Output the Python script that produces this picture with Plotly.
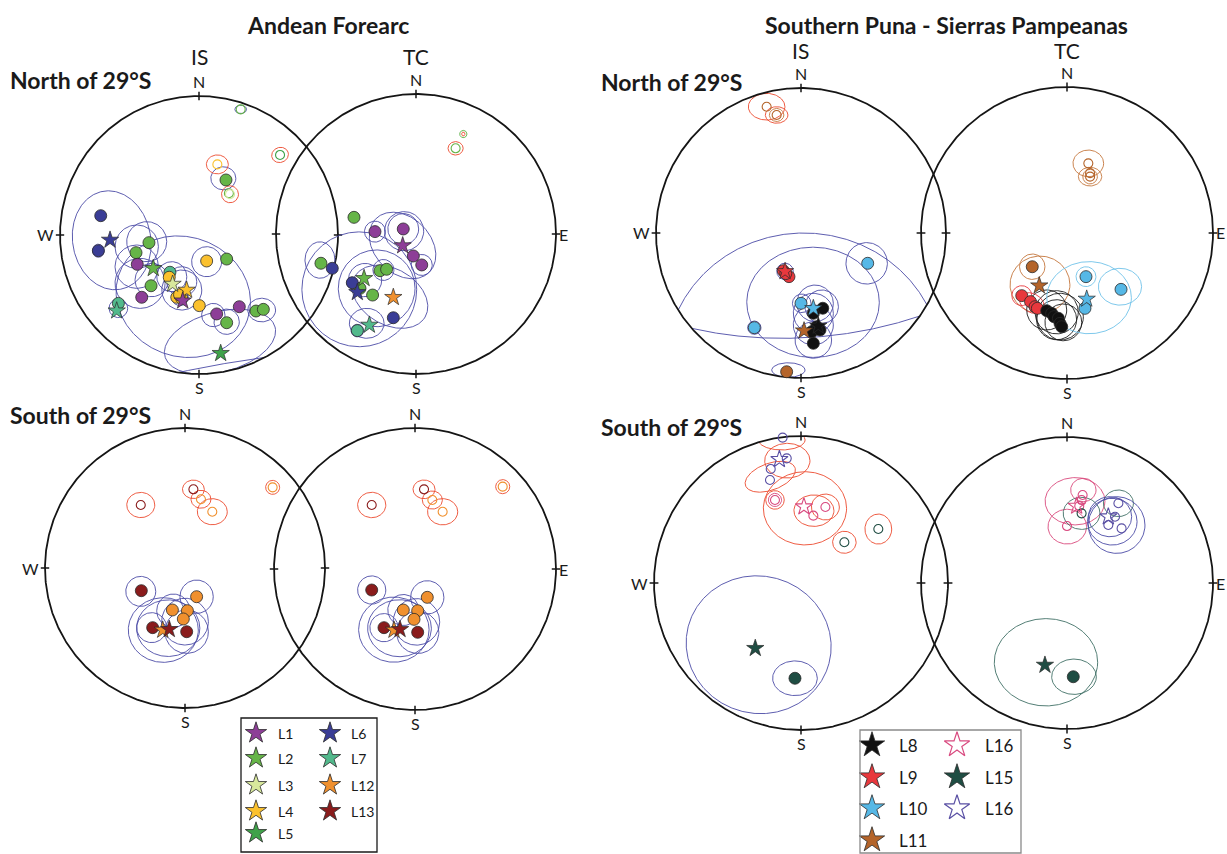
import numpy as np
import plotly.graph_objects as go

FIG_W, FIG_H = 1227, 854
FONT = "Lato, 'Open Sans', sans-serif"

# ---------------------------------------------------------------------------
# Site-mean directions on the equal-area net, as (site, east, north) in units
# of the net radius.  Rings are alpha95 cones: (colour key, east, north,
# semi-axis a, semi-axis b, rotation in degrees).
# ---------------------------------------------------------------------------

# Andean Forearc, north of 29S, in situ
AFN_IS_DOTS = [
    ('L6', -0.707, 0.139), ('L6', -0.724, -0.113),
    ('L2', -0.360, -0.055), ('L2', -0.453, -0.127), ('L2', -0.345, -0.365),
    ('L2', 0.199, -0.173), ('L2', 0.199, -0.631), ('L2', 0.410, -0.547),
    ('L2', 0.463, -0.535), ('L2', 0.194, 0.396),
    ('L7', -0.580, -0.492), ('L7', -0.209, -0.268),
    ('L1', -0.444, -0.211), ('L1', -0.412, -0.448), ('L1', 0.290, -0.516),
    ('L1', 0.127, -0.568),
    ('L4', -0.214, -0.304), ('L4', -0.160, -0.448), ('L4', -0.124, -0.456),
    ('L4', -0.140, -0.430), ('L4', 0.055, -0.187), ('L4', 0.002, -0.508),
]
AFN_IS_STARS = [
    ('L6', -0.640, -0.036), ('L2', -0.329, -0.240), ('L7', -0.592, -0.545),
    ('L3', -0.190, -0.353), ('L4', -0.089, -0.396), ('L1', -0.117, -0.473),
    ('L5', 0.156, -0.851),
]
AFN_IS_OPEN = [
    ('L2', 0.300, 0.904), ('L5', 0.583, 0.576), ('L4', 0.132, 0.508),
    ('L3', 0.223, 0.293), ('L2', 0.215, 0.300),
]
AFN_IS_RINGS = [
    ('low', 0.300, 0.904, 0.042, 0.030, 0), ('up', 0.583, 0.576, 0.061, 0.054, 20),
    ('up', 0.132, 0.508, 0.079, 0.068, 0), ('low', 0.175, 0.408, 0.090, 0.083, 0),
    ('up', 0.223, 0.293, 0.061, 0.061, 0), ('low', -0.628, -0.038, 0.281, 0.358, 10),
    ('low', -0.724, -0.113, 0.043, 0.047, 0), ('low', -0.376, -0.048, 0.144, 0.144, 0),
    ('low', -0.448, -0.084, 0.156, 0.156, 0), ('low', -0.448, -0.228, 0.156, 0.156, 0),
    ('low', -0.424, -0.348, 0.180, 0.180, 0), ('low', -0.340, -0.324, 0.120, 0.120, 0),
    ('low', -0.196, -0.300, 0.108, 0.108, 0), ('low', -0.124, -0.336, 0.108, 0.108, 0),
    ('low', -0.124, -0.396, 0.144, 0.144, 0), ('low', -0.137, -0.448, 0.060, 0.060, 0),
    ('low', 0.055, -0.192, 0.108, 0.108, 0), ('low', -0.113, -0.444, 0.490, 0.430, -20),
    ('low', 0.103, -0.576, 0.084, 0.084, 0), ('low', 0.199, -0.624, 0.091, 0.091, 0),
    ('low', 0.451, -0.540, 0.100, 0.085, 0), ('low', -0.580, -0.527, 0.067, 0.067, 0),
    ('low', 0.151, -0.768, 0.410, 0.216, 15), ('low', 0.500, -2.900, 4.000, 2.000, 10),
]

# Andean Forearc, north of 29S, tilt corrected
AFN_TC_DOTS = [
    ('L2', -0.443, 0.119), ('L2', -0.679, -0.209), ('L2', -0.257, -0.262),
    ('L2', -0.210, -0.252), ('L2', -0.400, -0.388), ('L2', -0.310, -0.436),
    ('L7', -0.419, -0.690),
    ('L1', -0.293, 0.017), ('L1', -0.091, 0.036), ('L1', -0.019, -0.157),
    ('L1', 0.041, -0.221),
    ('L6', -0.598, -0.245), ('L6', -0.455, -0.348), ('L6', -0.162, -0.598),
]
AFN_TC_STARS = [
    ('L1', -0.095, -0.083), ('L2', -0.371, -0.317), ('L6', -0.419, -0.417),
    ('L12', -0.162, -0.452), ('L7', -0.333, -0.650),
]
AFN_TC_OPEN = [('L2', 0.283, 0.612)]
AFN_TC_RINGS = [
    ('L2', 0.338, 0.714, 0.026, 0.026, 0), ('up', 0.338, 0.714, 0.012, 0.014, 0),
    ('up', 0.283, 0.612, 0.054, 0.048, 0), ('low', -0.293, 0.017, 0.075, 0.075, 0),
    ('low', -0.091, 0.036, 0.110, 0.110, 0), ('low', -0.085, 0.020, 0.140, 0.140, 0),
    ('low', -0.096, -0.082, 0.270, 0.200, -45), ('low', 0.041, -0.221, 0.075, 0.075, 0),
    ('low', -0.686, -0.186, 0.107, 0.130, 0), ('low', -0.405, -0.395, 0.410, 0.410, 0),
    ('low', -0.233, -0.257, 0.075, 0.075, 0), ('low', -0.281, -0.388, 0.274, 0.274, 0),
    ('low', -0.186, -0.448, 0.290, 0.200, -30), ('low', -0.364, -0.329, 0.119, 0.119, 0),
    ('low', -0.352, -0.638, 0.124, 0.107, 0), ('low', -0.455, -0.348, 0.040, 0.040, 0),
    ('low', -0.419, -0.690, 0.045, 0.045, 0),
]

# Andean Forearc, south of 29S, in situ
AFS_IS_DOTS = [
    ('L13', -0.312, -0.162), ('L13', -0.231, -0.426), ('L13', 0.012, -0.455),
    ('L12', 0.083, -0.205), ('L12', -0.090, -0.300), ('L12', 0.017, -0.305),
    ('L12', -0.012, -0.364),
]
AFS_IS_STARS = [('L12', -0.159, -0.443), ('L13', -0.112, -0.438)]
AFS_IS_OPEN = [
    ('L13', -0.316, 0.450), ('L13', 0.060, 0.562), ('L12', 0.114, 0.491),
    ('L12', 0.195, 0.402), ('L12', 0.626, 0.576),
]
AFS_IS_RINGS = [
    ('up', -0.316, 0.450, 0.100, 0.090, 0), ('up', 0.060, 0.562, 0.078, 0.066, 0),
    ('up', 0.114, 0.491, 0.071, 0.064, 0), ('up', 0.195, 0.402, 0.107, 0.093, 0),
    ('up', 0.626, 0.576, 0.050, 0.050, 0),
    ('low', -0.316, -0.167, 0.107, 0.107, 0), ('low', 0.083, -0.205, 0.119, 0.119, 0),
    ('low', -0.155, -0.443, 0.250, 0.231, 0), ('low', -0.120, -0.430, 0.226, 0.202, 0),
    ('low', -0.238, -0.426, 0.107, 0.107, 0), ('low', 0.000, -0.383, 0.167, 0.167, 0),
    ('low', 0.012, -0.455, 0.155, 0.155, 0), ('low', -0.083, -0.305, 0.119, 0.119, 0),
]

# Andean Forearc, south of 29S, tilt corrected
AFS_TC_DOTS = [
    ('L13', -0.307, -0.149), ('L13', -0.220, -0.416), ('L13', 0.019, -0.449),
    ('L12', 0.087, -0.201), ('L12', -0.083, -0.291), ('L12', 0.019, -0.296),
    ('L12', -0.007, -0.357),
]
AFS_TC_STARS = [('L12', -0.149, -0.433), ('L13', -0.106, -0.428)]
AFS_TC_OPEN = [
    ('L13', -0.307, 0.454), ('L13', 0.064, 0.565), ('L12', 0.123, 0.489),
    ('L12', 0.196, 0.406), ('L12', 0.622, 0.584),
]
AFS_TC_RINGS = [
    ('up', -0.307, 0.454, 0.100, 0.090, 0), ('up', 0.064, 0.565, 0.078, 0.066, 0),
    ('up', 0.123, 0.489, 0.071, 0.064, 0), ('up', 0.196, 0.406, 0.107, 0.093, 0),
    ('up', 0.622, 0.584, 0.050, 0.050, 0),
    ('low', -0.307, -0.149, 0.100, 0.100, 0), ('low', 0.087, -0.201, 0.118, 0.118, 0),
    ('low', -0.150, -0.430, 0.250, 0.231, 0), ('low', -0.110, -0.420, 0.226, 0.202, 0),
    ('low', -0.220, -0.416, 0.100, 0.100, 0), ('low', 0.010, -0.375, 0.165, 0.165, 0),
    ('low', 0.019, -0.449, 0.150, 0.150, 0), ('low', -0.083, -0.291, 0.110, 0.110, 0),
]

# Southern Puna - Sierras Pampeanas, north of 29S, in situ
SPN_IS_DOTS = [
    ('L9', -0.122, -0.260), ('L9', -0.083, -0.301), ('L9', -0.105, -0.280),
    ('L10', 0.460, -0.209), ('L10', 0.000, -0.485), ('L10', -0.322, -0.653),
    ('L8', 0.150, -0.519), ('L8', 0.085, -0.554), ('L8', 0.108, -0.646),
    ('L8', 0.074, -0.681), ('L8', 0.131, -0.669), ('L8', 0.085, -0.761),
    ('L11', -0.099, -0.957),
]
SPN_IS_STARS = [
    ('L9', -0.110, -0.265), ('L10', 0.085, -0.520), ('L8', 0.119, -0.641),
    ('L11', 0.021, -0.674),
]
SPN_IS_OPEN = [('L11', -0.237, 0.871), ('L11', -0.168, 0.814)]
SPN_IS_RINGS = [
    ('up', -0.237, 0.871, 0.126, 0.092, 0), ('up', -0.168, 0.814, 0.078, 0.057, 0),
    ('L11', -0.168, 0.814, 0.050, 0.045, 0),
    ('low', 0.453, -0.209, 0.143, 0.143, 0), ('low', 0.005, -0.485, 0.064, 0.064, 0),
    ('low', -0.322, -0.653, 0.046, 0.046, 0), ('low', -0.110, -0.265, 0.057, 0.057, 0),
    ('low', 0.083, -0.478, 0.457, 0.380, 0), ('low', 0.097, -0.485, 0.126, 0.126, 0),
    ('low', 0.085, -0.554, 0.138, 0.138, 0), ('low', 0.085, -0.634, 0.138, 0.138, 0),
    ('low', 0.085, -0.738, 0.126, 0.126, 0), ('low', 0.143, -0.508, 0.115, 0.115, 0),
    ('low', -0.087, -0.945, 0.115, 0.050, 0), ('low', 0.020, -0.900, 0.950, 0.900, 0),
    ('low', 0.020, 0.600, 2.000, 1.320, 5),
]

# Southern Puna - Sierras Pampeanas, north of 29S, tilt corrected
SPN_TC_DOTS = [
    ('L11', -0.238, -0.231),
    ('L9', -0.310, -0.429), ('L9', -0.250, -0.470), ('L9', -0.219, -0.505),
    ('L9', -0.203, -0.516),
    ('L8', -0.139, -0.532), ('L8', -0.105, -0.550), ('L8', -0.089, -0.573),
    ('L8', -0.059, -0.584), ('L8', -0.048, -0.619), ('L8', -0.036, -0.642),
    ('L10', 0.130, -0.299), ('L10', 0.370, -0.386), ('L10', 0.123, -0.516),
]
SPN_TC_STARS = [('L11', -0.190, -0.361), ('L10', 0.135, -0.452)]
SPN_TC_OPEN = [('L11', 0.146, 0.477), ('L11', 0.158, 0.386), ('L11', 0.158, 0.410)]
SPN_TC_RINGS = [
    ('L11', 0.146, 0.477, 0.105, 0.091, 0), ('L11', 0.158, 0.386, 0.080, 0.064, 0),
    ('L11', 0.158, 0.386, 0.050, 0.050, 0), ('L11', -0.238, -0.231, 0.087, 0.087, 0),
    ('L11', -0.185, -0.354, 0.205, 0.196, 0),
    ('L9', -0.310, -0.429, 0.068, 0.068, 0), ('L9', -0.240, -0.480, 0.090, 0.064, -30),
    ('L8', -0.139, -0.527, 0.137, 0.137, 0), ('L8', -0.071, -0.543, 0.148, 0.148, 0),
    ('L8', -0.025, -0.612, 0.126, 0.126, 0), ('L8', -0.071, -0.594, 0.137, 0.137, 0),
    ('L8', -0.048, -0.573, 0.160, 0.160, 0),
    ('L10', 0.130, -0.299, 0.068, 0.068, 0), ('L10', 0.363, -0.368, 0.148, 0.126, 0),
    ('L10', 0.151, -0.443, 0.290, 0.247, 0),
]

# Southern Puna - Sierras Pampeanas, south of 29S, in situ
SPS_IS_DOTS = [('L15', -0.041, -0.648)]
SPS_IS_STARS = [('L16v', -0.147, 0.841), ('L16', 0.020, 0.519), ('L15', -0.311, -0.444)]
SPS_IS_OPEN = [
    ('L16v', -0.125, 0.989), ('L16v', -0.097, 0.848), ('L16v', -0.206, 0.776),
    ('L16v', -0.211, 0.701), ('L16', -0.177, 0.565), ('L16', 0.166, 0.517),
    ('L16', 0.084, 0.458), ('L15', 0.295, 0.277), ('L15', 0.526, 0.367),
]
SPS_IS_RINGS = [
    ('up', -0.131, 0.973, 0.159, 0.068, 0), ('up', -0.093, 0.832, 0.154, 0.118, 0),
    ('up', -0.209, 0.723, 0.179, 0.091, 20), ('up', -0.177, 0.565, 0.063, 0.063, 0),
    ('L16', -0.177, 0.565, 0.045, 0.045, 0), ('up', 0.027, 0.508, 0.283, 0.249, 0),
    ('up', 0.088, 0.492, 0.136, 0.107, 0), ('up', 0.166, 0.517, 0.095, 0.088, 0),
    ('up', 0.295, 0.277, 0.080, 0.075, 0), ('up', 0.526, 0.367, 0.091, 0.102, 0),
    ('low', -0.041, -0.648, 0.152, 0.118, 0), ('low', -0.288, -0.420, 0.495, 0.467, -15),
]

# Southern Puna - Sierras Pampeanas, south of 29S, tilt corrected
SPS_TC_DOTS = [('L15', 0.043, -0.642)]
SPS_TC_STARS = [('L16', 0.066, 0.527), ('L16v', 0.283, 0.454), ('L15', -0.151, -0.562)]
SPS_TC_OPEN = [
    ('L16', 0.107, 0.603), ('L16', 0.100, 0.568), ('L16', 0.084, 0.527),
    ('L16', 0.000, 0.390), ('L15', 0.100, 0.477), ('L16v', 0.283, 0.397),
    ('L16v', 0.374, 0.374), ('L16v', 0.329, 0.454), ('L16v', 0.352, 0.546),
]
SPS_TC_RINGS = [
    ('L16', 0.055, 0.560, 0.205, 0.162, 0), ('L16', 0.002, 0.386, 0.132, 0.119, 0),
    ('L16', 0.112, 0.637, 0.087, 0.080, 0),
    ('L15', 0.100, 0.477, 0.126, 0.110, 0), ('L15', 0.352, 0.546, 0.103, 0.091, 0),
    ('low', 0.340, 0.397, 0.194, 0.194, 0), ('low', 0.295, 0.454, 0.148, 0.137, 0),
    ('low', 0.310, 0.420, 0.170, 0.160, 0),
    ('L15', 0.048, -0.642, 0.153, 0.121, 0), ('L15', -0.144, -0.543, 0.354, 0.299, 0),
]

# Legend entries: (site, label)
LEGEND_AF_LEFT = [('L1', 'L1'), ('L2', 'L2'), ('L3', 'L3'), ('L4', 'L4'), ('L5', 'L5')]
LEGEND_AF_RIGHT = [('L6', 'L6'), ('L7', 'L7'), ('L12', 'L12'), ('L13', 'L13')]
LEGEND_SP_LEFT = [('L8', 'L8'), ('L9', 'L9'), ('L10', 'L10'), ('L11', 'L11')]
LEGEND_SP_RIGHT = [('L16', 'L16'), ('L15', 'L15'), ('L16v', 'L16')]

# ---------------------------------------------------------------------------
# Styling
# ---------------------------------------------------------------------------
SITE_COLORS = {
    'L1': '#8d3e97', 'L2': '#66b548', 'L3': '#d8e89c', 'L4': '#fbc12e',
    'L5': '#3fa24a', 'L6': '#3a3d96', 'L7': '#52b98c', 'L12': '#f0902e',
    'L13': '#8a1c1c', 'L8': '#111111', 'L9': '#e8383d', 'L10': '#56b8e6',
    'L11': '#b4642a', 'L15': '#1f4d43', 'L16': '#d94b80', 'L16v': '#5a50a4',
}
RING_COLORS = {
    'low': '#4b4ba6', 'up': '#ec4a2e', 'L2': '#5bb046', 'L11': '#c4763c',
    'L8': '#1a1a1a', 'L9': '#e8383d', 'L10': '#6fc2e9', 'L12': '#ef8a34',
    'L15': '#3f6f65', 'L16': '#d9487c',
}
OPEN_STAR_SITES = {'L16', 'L16v'}

# Net placement in pixels: key, centre x, centre y, radius, side labels
NETS = [
    ('AFN_IS', 199, 235, 139, 'NWS'), ('AFN_TC', 416, 234, 140, 'NES'),
    ('AFS_IS', 185, 568, 140, 'NWS'), ('AFS_TC', 415, 569, 141, 'NES'),
    ('SPN_IS', 801, 233, 145, 'NWS'), ('SPN_TC', 1067, 233, 146, 'NES'),
    ('SPS_IS', 801, 583, 147, 'NWS'), ('SPS_TC', 1067, 583, 146, 'NES'),
]
NET_DATA = {
    'AFN_IS': (AFN_IS_RINGS, AFN_IS_OPEN, AFN_IS_DOTS, AFN_IS_STARS),
    'AFN_TC': (AFN_TC_RINGS, AFN_TC_OPEN, AFN_TC_DOTS, AFN_TC_STARS),
    'AFS_IS': (AFS_IS_RINGS, AFS_IS_OPEN, AFS_IS_DOTS, AFS_IS_STARS),
    'AFS_TC': (AFS_TC_RINGS, AFS_TC_OPEN, AFS_TC_DOTS, AFS_TC_STARS),
    'SPN_IS': (SPN_IS_RINGS, SPN_IS_OPEN, SPN_IS_DOTS, SPN_IS_STARS),
    'SPN_TC': (SPN_TC_RINGS, SPN_TC_OPEN, SPN_TC_DOTS, SPN_TC_STARS),
    'SPS_IS': (SPS_IS_RINGS, SPS_IS_OPEN, SPS_IS_DOTS, SPS_IS_STARS),
    'SPS_TC': (SPS_TC_RINGS, SPS_TC_OPEN, SPS_TC_DOTS, SPS_TC_STARS),
}
PAD = 1.08


def ring_path(cx, cy, a, b, rot):
    """Outline of a confidence ellipse, cut where it leaves the primitive."""
    n = int(np.clip(900 * max(a, b), 100, 4000))
    t = np.linspace(0, 2 * np.pi, n)
    c, s = np.cos(np.radians(rot)), np.sin(np.radians(rot))
    x = cx + a * np.cos(t) * c - b * np.sin(t) * s
    y = cy + a * np.cos(t) * s + b * np.sin(t) * c
    keep = x * x + y * y <= 1.0
    xs = [float(v) if k else None for v, k in zip(x, keep)]
    ys = [float(v) if k else None for v, k in zip(y, keep)]
    return xs + [None], ys + [None]


def px_to_paper(px, py):
    return px / FIG_W, 1 - py / FIG_H


fig = go.Figure()
layout_axes = {}
annotations = []

for k, (key, cx, cy, R, sides) in enumerate(NETS, start=1):
    sfx = '' if k == 1 else str(k)
    xa, ya = 'x' + sfx, 'y' + sfx
    layout_axes['xaxis' + sfx] = dict(
        domain=[(cx - PAD * R) / FIG_W, (cx + PAD * R) / FIG_W],
        range=[-PAD, PAD], visible=False, anchor=ya, fixedrange=True)
    layout_axes['yaxis' + sfx] = dict(
        domain=[1 - (cy + PAD * R) / FIG_H, 1 - (cy - PAD * R) / FIG_H],
        range=[-PAD, PAD], visible=False, anchor=xa, fixedrange=True)

    rings, opens, dots, stars = NET_DATA[key]

    # alpha95 rings, one trace per colour
    for ck in dict.fromkeys(r[0] for r in rings):
        xs, ys = [], []
        for g, ex, ey, a, b, rot in rings:
            if g == ck:
                px_, py_ = ring_path(ex, ey, a, b, rot)
                xs += px_
                ys += py_
        fig.add_trace(go.Scatter(
            x=xs, y=ys, xaxis=xa, yaxis=ya, mode='lines',
            line=dict(color=RING_COLORS[ck], width=0.9),
            hoverinfo='skip', showlegend=False))

    # primitive circle and N/E/S/W ticks
    t = np.linspace(0, 2 * np.pi, 721)
    fig.add_trace(go.Scatter(
        x=np.cos(t), y=np.sin(t), xaxis=xa, yaxis=ya, mode='lines',
        line=dict(color='#151515', width=1.8), hoverinfo='skip', showlegend=False))
    tx, ty = [], []
    for ux, uy in [(0, 1), (1, 0), (0, -1), (-1, 0)]:
        tx += [0.97 * ux, 1.03 * ux, None]
        ty += [0.97 * uy, 1.03 * uy, None]
    fig.add_trace(go.Scatter(
        x=tx, y=ty, xaxis=xa, yaxis=ya, mode='lines',
        line=dict(color='#151515', width=1.5), hoverinfo='skip', showlegend=False))

    # upper-hemisphere site means
    for g in dict.fromkeys(o[0] for o in opens):
        pts = [o for o in opens if o[0] == g]
        fig.add_trace(go.Scatter(
            x=[p[1] for p in pts], y=[p[2] for p in pts], xaxis=xa, yaxis=ya,
            mode='markers', hoverinfo='skip', showlegend=False,
            marker=dict(symbol='circle-open', size=9, color=SITE_COLORS[g],
                        line=dict(width=1.1, color=SITE_COLORS[g]))))

    # lower-hemisphere site means
    for g in dict.fromkeys(d[0] for d in dots):
        pts = [d for d in dots if d[0] == g]
        fig.add_trace(go.Scatter(
            x=[p[1] for p in pts], y=[p[2] for p in pts], xaxis=xa, yaxis=ya,
            mode='markers', hoverinfo='skip', showlegend=False,
            marker=dict(symbol='circle', size=12, color=SITE_COLORS[g],
                        line=dict(width=0.8, color='#2a2a2a'))))

    # locality means
    for g in dict.fromkeys(s_[0] for s_ in stars):
        pts = [s_ for s_ in stars if s_[0] == g]
        if g in OPEN_STAR_SITES:
            mk = dict(symbol='star-open', size=13, color=SITE_COLORS[g],
                      line=dict(width=1.1, color=SITE_COLORS[g]))
        else:
            mk = dict(symbol='star', size=13, color=SITE_COLORS[g],
                      line=dict(width=0.7, color='#2a2a2a'))
        fig.add_trace(go.Scatter(
            x=[p[1] for p in pts], y=[p[2] for p in pts], xaxis=xa, yaxis=ya,
            mode='markers', hoverinfo='skip', showlegend=False, marker=mk))

    # compass letters
    lab_font = dict(family=FONT, size=16, color='#1a1a1a')
    for side in sides:
        if side == 'N':
            x0, y0 = px_to_paper(cx, cy - R - 4)
            annotations.append(dict(text='N', x=x0, y=y0, xanchor='center', yanchor='bottom'))
        elif side == 'S':
            x0, y0 = px_to_paper(cx, cy + R + 3)
            annotations.append(dict(text='S', x=x0, y=y0, xanchor='center', yanchor='top'))
        elif side == 'W':
            x0, y0 = px_to_paper(cx - R - 5, cy)
            annotations.append(dict(text='W', x=x0, y=y0, xanchor='right', yanchor='middle'))
        elif side == 'E':
            x0, y0 = px_to_paper(cx + R + 2, cy)
            annotations.append(dict(text='E', x=x0, y=y0, xanchor='left', yanchor='middle'))
        annotations[-1].update(xref='paper', yref='paper', showarrow=False,
                               font=lab_font, borderpad=0)


# headings
def heading(text, px, py, size, anchor='center', bold=False):
    x0, y0 = px_to_paper(px, py)
    annotations.append(dict(
        text=f'<b>{text}</b>' if bold else text, x=x0, y=y0, xref='paper', yref='paper',
        xanchor=anchor, yanchor='middle', showarrow=False, borderpad=0,
        font=dict(family=FONT, size=size, color='#1a1a1a')))


heading('Andean Forearc', 328, 25, 23, bold=True)
heading('Southern Puna - Sierras Pampeanas', 947, 25, 23, bold=True)
heading('IS', 199, 57, 21)
heading('TC', 416, 57, 21)
heading('IS', 800, 51, 21)
heading('TC', 1067, 51, 21)
heading('North of 29°S', 9, 80, 23, anchor='left', bold=True)
heading('South of 29°S', 9, 415, 23, anchor='left', bold=True)
heading('North of 29°S', 600, 82, 23, anchor='left', bold=True)
heading('South of 29°S', 600, 427, 23, anchor='left', bold=True)

# legends: an overlay axis in pixel units holds the key symbols
layout_axes['xaxis9'] = dict(domain=[0, 1], range=[0, FIG_W], visible=False,
                             anchor='y9', fixedrange=True)
layout_axes['yaxis9'] = dict(domain=[0, 1], range=[FIG_H, 0], visible=False,
                             anchor='x9', fixedrange=True)

shapes = [
    dict(type='rect', xref='paper', yref='paper',
         x0=241 / FIG_W, x1=377 / FIG_W, y0=1 - 852 / FIG_H, y1=1 - 718 / FIG_H,
         line=dict(color='#1a1a1a', width=1.3), fillcolor='rgba(0,0,0,0)'),
    dict(type='rect', xref='paper', yref='paper',
         x0=860 / FIG_W, x1=1021 / FIG_W, y0=1 - 853 / FIG_H, y1=1 - 730 / FIG_H,
         line=dict(color='#8a8a8a', width=1.3), fillcolor='rgba(0,0,0,0)'),
]


def legend_column(entries, star_x, text_x, rows_y, star_size, font_size):
    for (g, lab), ry in zip(entries, rows_y):
        if g in OPEN_STAR_SITES:
            mk = dict(symbol='star-open', size=star_size, color=SITE_COLORS[g],
                      line=dict(width=1.2, color=SITE_COLORS[g]))
        else:
            mk = dict(symbol='star', size=star_size, color=SITE_COLORS[g],
                      line=dict(width=0.8, color='#2a2a2a'))
        fig.add_trace(go.Scatter(x=[star_x], y=[ry], xaxis='x9', yaxis='y9',
                                 mode='markers', marker=mk, hoverinfo='skip',
                                 showlegend=False))
        x0, y0 = px_to_paper(text_x, ry)
        annotations.append(dict(text=lab, x=x0, y=y0, xref='paper', yref='paper',
                                xanchor='left', yanchor='middle', showarrow=False,
                                font=dict(family=FONT, size=font_size, color='#1a1a1a')))


AF_ROWS = [733, 758, 785, 811, 833]
SP_ROWS = [745, 777, 808, 840]
legend_column(LEGEND_AF_LEFT, 256, 276, AF_ROWS, 16, 14)
legend_column(LEGEND_AF_RIGHT, 330, 349, AF_ROWS, 16, 14)
legend_column(LEGEND_SP_LEFT, 872, 897, SP_ROWS, 19, 17)
legend_column(LEGEND_SP_RIGHT, 957, 983, SP_ROWS, 19, 17)

fig.update_layout(
    width=FIG_W, height=FIG_H, autosize=False,
    margin=dict(l=0, r=0, t=0, b=0, pad=0),
    paper_bgcolor='white', plot_bgcolor='rgba(0,0,0,0)',
    showlegend=False, annotations=annotations, shapes=shapes,
    **layout_axes,
)

fig.write_html('out.html')
